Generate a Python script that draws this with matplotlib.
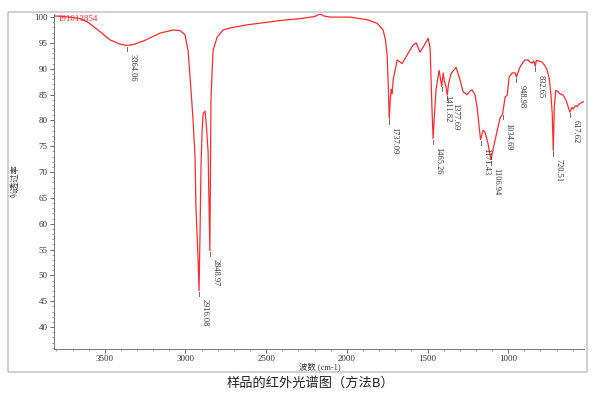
import numpy as np
import matplotlib
matplotlib.use("Agg")
import matplotlib.pyplot as plt
from matplotlib.ticker import MultipleLocator
from matplotlib.patches import Rectangle

# spectrum (wavenumber cm-1, % transmittance)
wavenumber = [3815, 3796, 3716, 3654, 3604, 3530, 3468, 3410, 3364.06, 3320,
              3251, 3158, 3077, 3034, 3003, 2984, 2966, 2953, 2941, 2935,
              2922, 2916.08, 2910, 2904, 2897, 2891, 2879, 2873, 2860, 2854,
              2848.97, 2845, 2842, 2835, 2829, 2804, 2767, 2724, 2618, 2395,
              2290, 2200, 2166, 2140, 2104, 1980, 1874, 1812, 1775, 1760,
              1750, 1744, 1737.09, 1731, 1725, 1720, 1712, 1688, 1657, 1620,
              1589, 1570, 1546, 1521, 1496, 1484, 1478, 1472, 1465.26, 1459,
              1447, 1428, 1411.82, 1403, 1395, 1385, 1377.69, 1370, 1355, 1323,
              1300, 1279, 1254, 1236, 1223, 1205, 1192, 1171.43, 1155, 1143,
              1125, 1106.94, 1081, 1050, 1034.69, 1019, 1006, 994, 975, 957,
              948.98, 927, 907, 895, 876, 860, 851, 840, 832.65, 825,
              810, 790, 770, 758, 745, 735, 727, 720.51, 714, 705,
              695, 680, 659, 640, 625, 617.62, 605, 597, 585, 572,
              555, 535]
transmittance = [100.2, 100.2, 100.0, 99.7, 99.0, 97.2, 95.6, 94.8, 94.5, 94.7,
                 95.5, 96.9, 97.5, 97.4, 96.6, 93.5, 86.0, 80.0, 73.0, 63.0,
                 53.0, 47.0, 58.0, 71.0, 78.0, 81.3, 81.8, 80.0, 74.0, 63.0,
                 54.8, 70.0, 84.0, 89.5, 93.6, 96.1, 97.5, 97.9, 98.5, 99.4,
                 99.7, 100.1, 100.6, 100.2, 100.0, 100.0, 99.5, 98.8, 97.5, 95.5,
                 92.5, 87.5, 80.4, 84.0, 86.0, 85.2, 88.0, 91.7, 91.0, 93.0,
                 94.6, 95.0, 93.2, 94.5, 95.9, 94.0, 88.0, 82.0, 76.5, 80.0,
                 86.0, 89.7, 86.6, 89.2, 87.5, 86.5, 84.9, 87.0, 89.0, 90.3,
                 88.0, 85.5, 85.0, 85.7, 85.9, 84.9, 82.4, 76.3, 78.1, 77.7,
                 75.5, 72.4, 76.2, 80.5, 81.2, 84.5, 84.9, 88.4, 89.2, 89.2,
                 88.4, 90.3, 91.3, 91.7, 91.7, 91.2, 91.1, 91.5, 90.5, 91.6,
                 91.5, 91.3, 90.5, 89.7, 88.0, 85.0, 81.4, 74.2, 82.6, 85.8,
                 85.7, 85.2, 84.9, 83.8, 82.3, 81.6, 82.5, 82.2, 82.8, 82.7,
                 83.3, 83.6]

peak_labels = [3364.06, 2916.08, 2848.97, 1737.09, 1465.26, 1411.82, 1377.69,
               1171.43, 1106.94, 1034.69, 948.98, 832.65, 720.51, 617.62]

sample_id = "191013854"
title = "样品的红外光谱图（方法B）"
xlabel = "波数 (cm-1)"
ylabel = "%透过率"

serif = ["Liberation Serif", "Noto Sans CJK SC", "DejaVu Sans"]
cjk = ["Noto Sans CJK SC", "DejaVu Sans"]
plt.rcParams["font.family"] = serif

fig = plt.figure(figsize=(6.0, 3.96), dpi=100)
ax = fig.add_axes([54 / 600, 1 - 349 / 396, 530 / 600, 335 / 396])

wn = np.array(wavenumber)
tr = np.array(transmittance)
ax.plot(wn, tr, color="#ff2a2a", lw=0.9)

# peak markers and labels
order = np.argsort(wn)
for p in peak_labels:
    t = np.interp(p, wn[order], tr[order])
    ax.plot([p, p], [t - 0.2, t - 1.0], color="#555555", lw=0.6)
    dx = 2.8 if p == 1377.69 else 1.0   # keep the two close labels apart
    ax.annotate(f"{p:.2f}", xy=(p, t), xytext=(dx, -6), textcoords="offset points",
                rotation=-90, ha="left", va="top", fontsize=6, color="#333333",
                family=serif)

ax.set_xlim(3815, 530)
ax.set_ylim(35.75, 100.6)
ax.xaxis.set_major_locator(MultipleLocator(500))
ax.xaxis.set_minor_locator(MultipleLocator(100))
ax.yaxis.set_major_locator(MultipleLocator(5))
ax.yaxis.set_minor_locator(MultipleLocator(1))
ax.set_yticks(np.arange(40, 101, 5))
ax.tick_params(which="major", length=3, width=0.6, color="#555555",
               labelsize=6.5, labelcolor="#333333", pad=1.5)
ax.tick_params(which="minor", length=1.5, width=0.5, color="#777777")
ax.set_xticks([3500, 3000, 2500, 2000, 1500, 1000])

for s in ["top", "right"]:
    ax.spines[s].set_visible(False)
for s in ["left", "bottom"]:
    ax.spines[s].set_color("#777777")
    ax.spines[s].set_linewidth(0.7)

fig.text(57 / 600, 1 - 19 / 396, sample_id, color="#ff2a2a", fontsize=6.5,
         ha="left", va="center", family=serif)
fig.text(320 / 600, 1 - 367 / 396, xlabel, fontsize=6, ha="center", va="center",
         color="#333333", family=serif)
fig.text(15 / 600, 1 - 181 / 396, ylabel, fontsize=6, rotation=90, ha="center",
         va="center", color="#333333", family=cjk)
fig.text(310 / 600, 1 - 383 / 396, title, fontsize=9.5, ha="center", va="center",
         color="#222222", family=cjk)

# grey frame around the picture
fig.patches.append(Rectangle((8 / 600, 1 - 372 / 396), 579 / 600, 360 / 396,
                             transform=fig.transFigure, fill=False,
                             edgecolor="#c8c8c8", lw=1.2))

fig.savefig("out.png", dpi=100)
